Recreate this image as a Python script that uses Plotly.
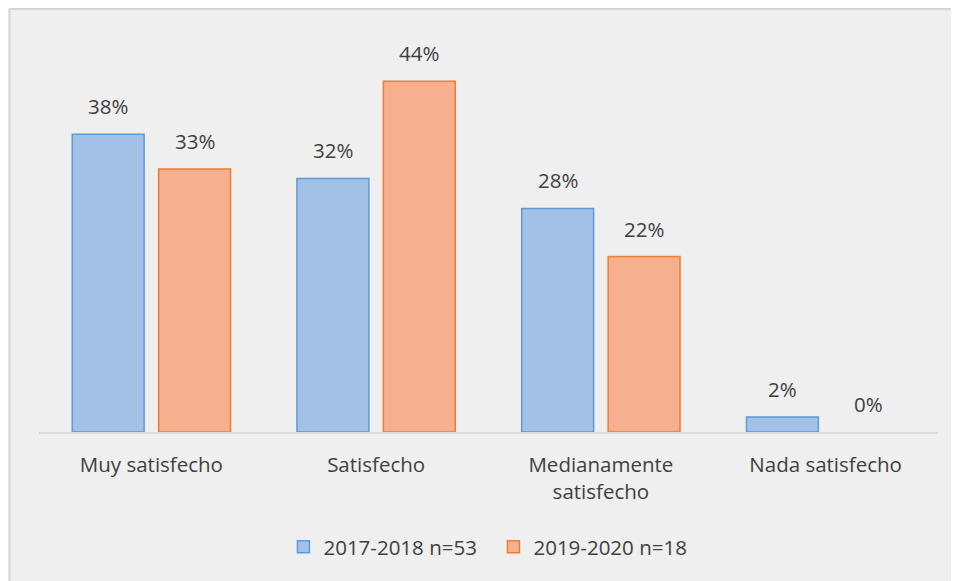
import plotly.graph_objects as go

categories = ["Muy satisfecho", "Satisfecho", "Medianamente<br>satisfecho", "Nada satisfecho"]
series_names = ["2017-2018 n=53", "2019-2020 n=18"]
values_2017 = [37.7, 32.1, 28.3, 1.9]
values_2019 = [33.3, 44.4, 22.2, 0.0]

FONT = "Open Sans"
FS = 20.5
TXT = "#404040"
fill_colors = ["#a3c0e6", "#f6b090"]
line_colors = ["#5b9bd5", "#ed7d31"]

fig = go.Figure()
for name, vals, fc, lc in zip(series_names, [values_2017, values_2019], fill_colors, line_colors):
    fig.add_trace(go.Bar(
        x=categories, y=vals, name=name,
        marker=dict(color=fc, line=dict(color=lc, width=[1.5 if v > 0 else 0 for v in vals])),
        hoverinfo="skip",
    ))

# value labels above bars
annotations = []
for shift, vals in zip([-43.25, 43.25], [values_2017, values_2019]):
    for c, v in zip(categories, vals):
        annotations.append(dict(
            x=c, y=v, xref="x", yref="y", text=f"{v:.0f}%", showarrow=False,
            xshift=shift, yshift=12, yanchor="bottom",
            font=dict(family=FONT, size=FS, color=TXT),
        ))

border = dict(color="#d6d6d6", width=2)
fig.update_layout(
    width=951, height=573,
    margin=dict(l=30.5, r=20.5, t=29, b=149, autoexpand=False),
    paper_bgcolor="#efefef",
    plot_bgcolor="rgba(0,0,0,0)",
    barmode="group",
    bargap=0.231,
    bargroupgap=0.168,
    font=dict(family=FONT, size=FS, color=TXT),
    showlegend=True,
    legend=dict(orientation="h", x=0.5055, xanchor="center", y=-0.291, yanchor="middle",
                font=dict(family=FONT, size=FS, color=TXT), bgcolor="rgba(0,0,0,0)",
                entrywidth=165, itemclick=False, itemdoubleclick=False),
    xaxis=dict(showline=True, linecolor="#d9d9d9", linewidth=1.5, showgrid=False,
               ticks="", ticklabelstandoff=14, tickfont=dict(family=FONT, size=FS, color=TXT),
               fixedrange=True),
    yaxis=dict(range=[0, 50], visible=False, showgrid=False, zeroline=False, fixedrange=True),
    annotations=annotations,
    shapes=[
        dict(type="line", xref="paper", yref="paper", layer="below",
             x0=-0.0328, x1=-0.0328, y0=-0.5, y1=1.0709, line=border),
        dict(type="line", xref="paper", yref="paper", layer="below",
             x0=-0.0328, x1=1.1, y0=1.0709, y1=1.0709, line=border),
    ],
)

fig.write_html(
    "out.html",
    config={"displayModeBar": False},
    post_script="document.documentElement.style.overflow='hidden';document.body.style.overflow='hidden';",
)
